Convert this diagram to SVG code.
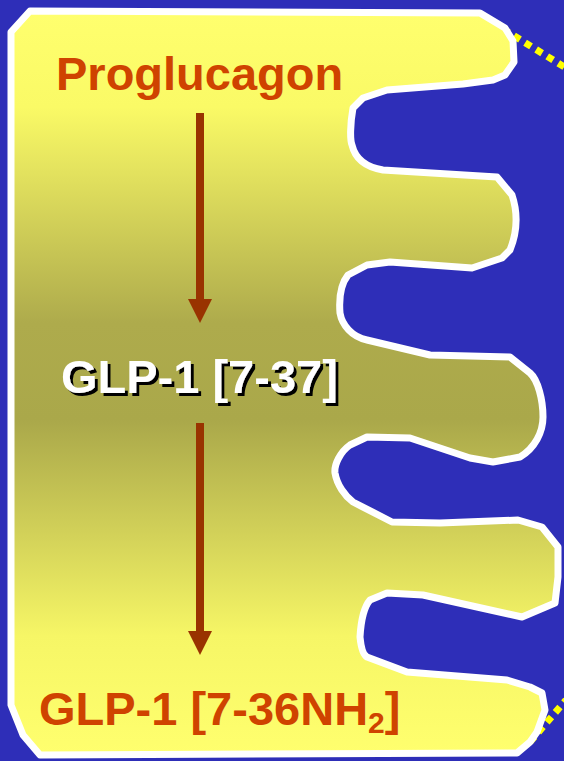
<svg xmlns="http://www.w3.org/2000/svg" width="564" height="761" viewBox="0 0 564 761">
  <defs>
    <linearGradient id="cellFill" gradientUnits="userSpaceOnUse" x1="0" y1="10" x2="0" y2="755">
      <stop offset="0" stop-color="#ffff6e"/>
      <stop offset="0.13" stop-color="#fafa66"/>
      <stop offset="0.42" stop-color="#aeab4c"/>
      <stop offset="0.55" stop-color="#aaa84a"/>
      <stop offset="0.84" stop-color="#f6f666"/>
      <stop offset="1" stop-color="#ffff6e"/>
    </linearGradient>
    <filter id="hardShadow" x="-5%" y="-20%" width="115%" height="150%">
      <feDropShadow dx="3" dy="3" stdDeviation="0" flood-color="#000000" flood-opacity="1"/>
    </filter>
  </defs>
  <style>
    .lbl { font-family: "Liberation Sans", Arial, sans-serif; font-weight: bold; font-size: 47px; }
    .orange { fill: #cf4300; }
    .white { fill: #ffffff; }
    .shaft { fill: #993300; }
    .dots { stroke: #ffff00; stroke-width: 7; stroke-dasharray: 7 6; fill: none; }
  </style>

  <!-- background -->
  <rect x="0" y="0" width="564" height="761" fill="#2e2eb8"/>

  <!-- membrane dotted lines -->
  <g id="membrane-dots">
    <line class="dots" x1="503" y1="29" x2="566" y2="68"/>
    <line class="dots" x1="530" y1="742" x2="566" y2="700"/>
  </g>

  <!-- cell body with villi -->
  <g id="cell">
    <path fill="url(#cellFill)" stroke="#ffffff" stroke-width="7" stroke-linejoin="round"
      d="M30 11 L480 13 L505 28 L513 41 L514 62 L505 75 L493 80 L463 84 L387 90 L363 98 L353 108
         C350 125 350 140 352 145 C355 158 365 167 383 170 L497 177 L512 195
         C517 210 518 230 510 250 L502 258 L472 268 L390 262 L367 265 L348 275
         C340 285 339 300 340 313 C342 325 352 337 367 340 L430 355 L510 357 L530 373
         C538 380 543 400 543 417 C543 432 535 448 520 457 L493 462 L470 458 L410 438 L367 437 L350 445
         C340 452 334 465 335 473 C337 485 345 496 353 502 L392 522 L440 523 L518 520 L542 527
         L558 547 L558 577 L555 603 L522 617 L423 595 L387 593 L370 600
         C364 607 361 620 360 637 C361 647 363 655 367 657 L407 672 L507 680 L530 687 L542 693
         L545 710 L537 732 L530 742 L517 753 L40 755 L23 735 L11 705 L11 32 Z"/>
  </g>

  <!-- connectors -->
  <g id="connectors">
    <rect class="shaft" x="196" y="113" width="8" height="187"/>
    <path class="shaft" d="M188 299 L212 299 L200 323 Z"/>
    <rect class="shaft" x="196" y="423" width="8" height="209"/>
    <path class="shaft" d="M188 631 L212 631 L200 655 Z"/>
  </g>

  <!-- labels -->
  <g id="proglucagon">
    <text class="lbl orange" x="56" y="90">Proglucagon</text>
  </g>
  <g id="glp1-7-37">
    <text class="lbl white" x="61" y="393" filter="url(#hardShadow)">GLP-1 [7-37]</text>
  </g>
  <g id="glp1-7-36nh2">
    <text class="lbl orange" x="39" y="725" font-size="48">GLP-1 [7-36NH<tspan font-size="30" dy="8">2</tspan><tspan dy="-8">]</tspan></text>
  </g>
</svg>
